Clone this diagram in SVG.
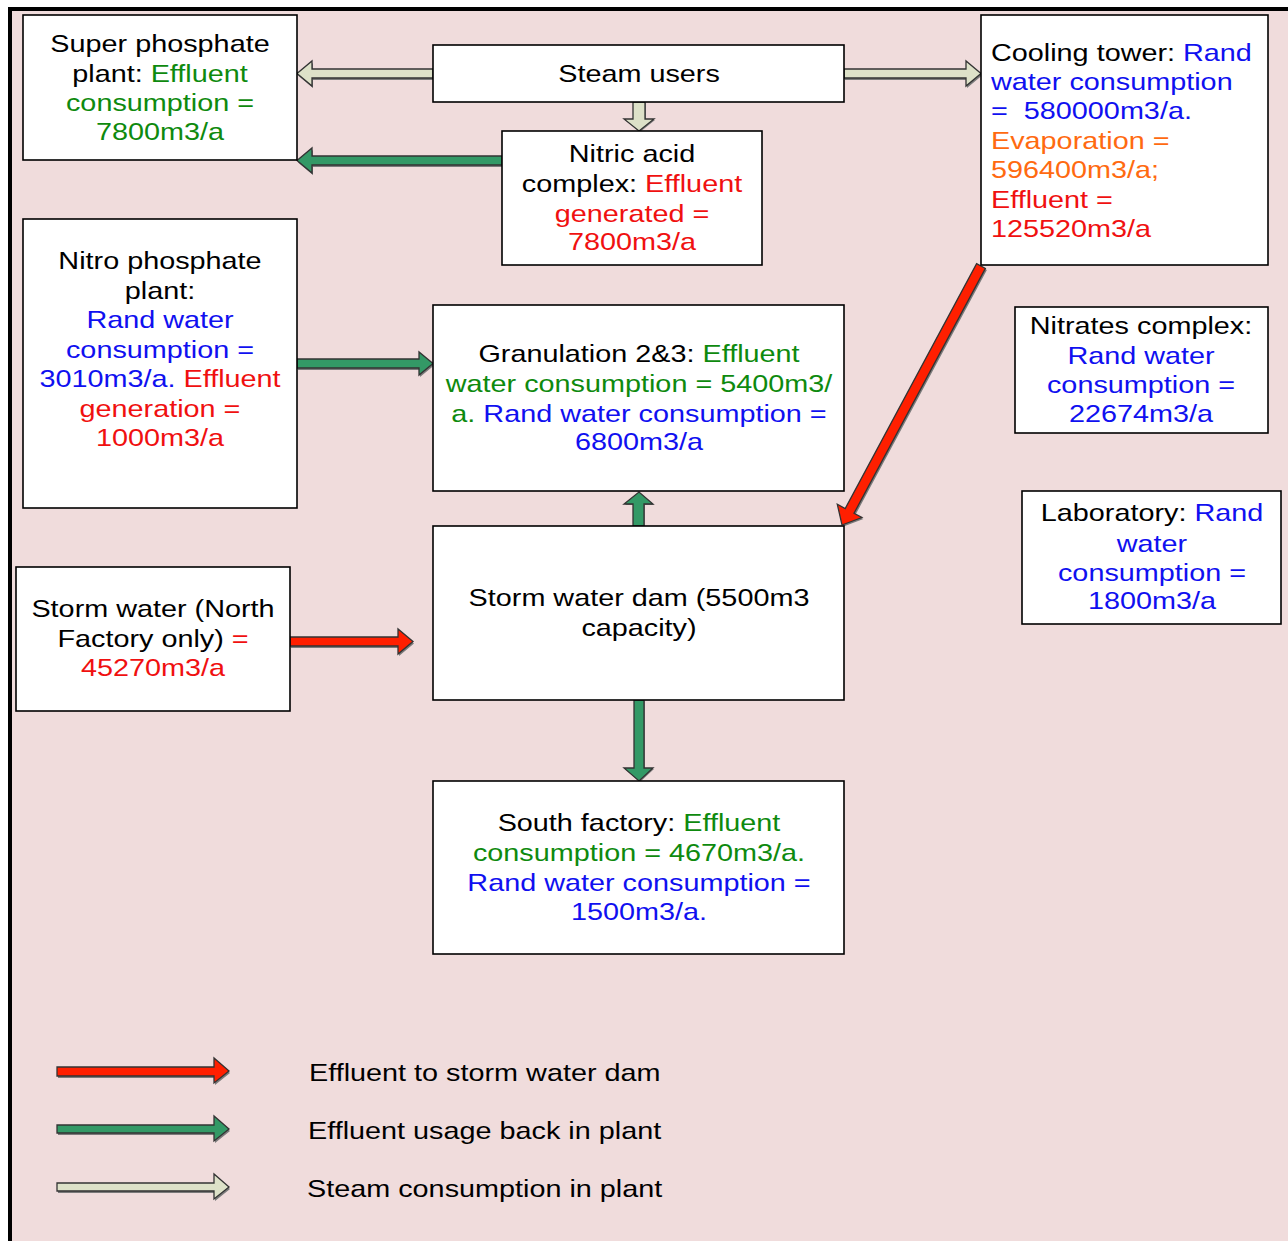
<svg xmlns="http://www.w3.org/2000/svg" width="1288" height="1241" viewBox="0 0 1288 1241">
<style>
text{font-family:"Liberation Sans",Arial,sans-serif;font-size:24px;fill:#000}
.c{text-anchor:middle}
.g{fill:#0e8a0e}
.b{fill:#1010f0}
.r{fill:#f01010}
.o{fill:#ff6a10}
.box{fill:#fff;stroke:#000;stroke-width:1.6}
.sh{fill:#7a7a7a}
.ar{stroke:#333;stroke-width:1.3;stroke-linejoin:miter}
.red{fill:#ff1f00}
.grn{fill:#339966}
.stm{fill:#dde1c8}
</style>
<rect x="0" y="0" width="1288" height="1241" fill="#fff"/>
<rect x="10" y="9" width="1278" height="1232" fill="#f0dcdc"/>
<path d="M10 1241 V9 H1288" fill="none" stroke="#000" stroke-width="4"/>

<g id="connectors">
  <polygon class="sh" transform="translate(1,2)" points="433,69 312,69 312,61 297,73.5 312,86 312,78 433,78"/>
  <polygon class="ar stm" points="433,69 312,69 312,61 297,73.5 312,86 312,78 433,78"/>
  <polygon class="sh" transform="translate(1,2)" points="844,69 966,69 966,61 981,73.5 966,86 966,78 844,78"/>
  <polygon class="ar stm" points="844,69 966,69 966,61 981,73.5 966,86 966,78 844,78"/>
  <polygon class="sh" transform="translate(1,1)" points="633,102 645,102 645,119 654,119 639,131 624,119 633,119"/>
  <polygon class="ar stm" points="633,102 645,102 645,119 654,119 639,131 624,119 633,119"/>
  <polygon class="sh" transform="translate(1,2)" points="502,156 312,156 312,148 297,160.5 312,173 312,165 502,165"/>
  <polygon class="ar grn" points="502,156 312,156 312,148 297,160.5 312,173 312,165 502,165"/>
  <polygon class="sh" transform="translate(1,2)" points="297,359 419,359 419,352 433,363.5 419,375 419,368 297,368"/>
  <polygon class="ar grn" points="297,359 419,359 419,352 433,363.5 419,375 419,368 297,368"/>
  <polygon class="sh" transform="translate(1,1)" points="633,526 633,504 624,504 639,492 653,504 644,504 644,526"/>
  <polygon class="ar grn" points="633,526 633,504 624,504 639,492 653,504 644,504 644,526"/>
  <polygon class="sh" transform="translate(1.5,1.5)" points="985.4,268.4 854,513.3 861.9,517.5 842,525 837.3,504.3 845.2,508.5 976.6,263.6"/>
  <polygon class="ar red" points="985.4,268.4 854,513.3 861.9,517.5 842,525 837.3,504.3 845.2,508.5 976.6,263.6"/>
  <polygon class="sh" transform="translate(1,2)" points="290,637 398,637 398,629 413,641.5 398,654 398,646 290,646"/>
  <polygon class="ar red" points="290,637 398,637 398,629 413,641.5 398,654 398,646 290,646"/>
  <polygon class="sh" transform="translate(1,1)" points="634,700 644,700 644,768 653,768 639,781 624,768 634,768"/>
  <polygon class="ar grn" points="634,700 644,700 644,768 653,768 639,781 624,768 634,768"/>
</g>

<g id="super-phosphate">
  <rect class="box" x="23" y="15" width="274" height="145"/>
  <text class="c" transform="translate(160,0) scale(1.2,1)" y="52">Super phosphate</text>
  <text class="c" transform="translate(160,0) scale(1.2,1)" y="82">plant: <tspan class="g">Effluent</tspan></text>
  <text class="c g" transform="translate(160,0) scale(1.2,1)" y="111">consumption =</text>
  <text class="c g" transform="translate(160,0) scale(1.2,1)" y="140">7800m3/a</text>
</g>

<g id="steam-users">
  <rect class="box" x="433" y="45" width="411" height="57"/>
  <text class="c" transform="translate(639,0) scale(1.2,1)" y="82">Steam users</text>
</g>

<g id="nitric-acid">
  <rect class="box" x="502" y="131" width="260" height="134"/>
  <text class="c" transform="translate(632,0) scale(1.2,1)" y="162">Nitric acid</text>
  <text class="c" transform="translate(632,0) scale(1.2,1)" y="192">complex: <tspan class="r">Effluent</tspan></text>
  <text class="c r" transform="translate(632,0) scale(1.2,1)" y="222">generated =</text>
  <text class="c r" transform="translate(632,0) scale(1.2,1)" y="250">7800m3/a</text>
</g>

<g id="cooling-tower">
  <rect class="box" x="981" y="15" width="287" height="250"/>
  <text transform="translate(991,0) scale(1.2,1)" y="61">Cooling tower: <tspan class="b">Rand</tspan></text>
  <text class="b" transform="translate(991,0) scale(1.2,1)" y="90">water consumption</text>
  <text class="b" transform="translate(991,0) scale(1.2,1)" y="119" xml:space="preserve">=  580000m3/a.</text>
  <text class="o" transform="translate(991,0) scale(1.2,1)" y="149">Evaporation =</text>
  <text class="o" transform="translate(991,0) scale(1.2,1)" y="178">596400m3/a;</text>
  <text class="r" transform="translate(991,0) scale(1.2,1)" y="208">Effluent =</text>
  <text class="r" transform="translate(991,0) scale(1.2,1)" y="237">125520m3/a</text>
</g>

<g id="nitro-phosphate">
  <rect class="box" x="23" y="219" width="274" height="289"/>
  <text class="c" transform="translate(160,0) scale(1.2,1)" y="269">Nitro phosphate</text>
  <text class="c" transform="translate(160,0) scale(1.2,1)" y="299">plant:</text>
  <text class="c b" transform="translate(160,0) scale(1.2,1)" y="328">Rand water</text>
  <text class="c b" transform="translate(160,0) scale(1.2,1)" y="358">consumption =</text>
  <text class="c b" transform="translate(160,0) scale(1.2,1)" y="387">3010m3/a. <tspan class="r">Effluent</tspan></text>
  <text class="c r" transform="translate(160,0) scale(1.2,1)" y="417">generation =</text>
  <text class="c r" transform="translate(160,0) scale(1.2,1)" y="446">1000m3/a</text>
</g>

<g id="granulation">
  <rect class="box" x="433" y="305" width="411" height="186"/>
  <text class="c" transform="translate(639,0) scale(1.2,1)" y="362">Granulation 2&amp;3: <tspan class="g">Effluent</tspan></text>
  <text class="c g" transform="translate(639,0) scale(1.2,1)" y="392">water consumption = 5400m3/</text>
  <text class="c g" transform="translate(639,0) scale(1.2,1)" y="422">a. <tspan class="b">Rand water consumption =</tspan></text>
  <text class="c b" transform="translate(639,0) scale(1.2,1)" y="450">6800m3/a</text>
</g>

<g id="nitrates-complex">
  <rect class="box" x="1015" y="307" width="253" height="126"/>
  <text class="c" transform="translate(1141,0) scale(1.2,1)" y="334">Nitrates complex:</text>
  <text class="c b" transform="translate(1141,0) scale(1.2,1)" y="364">Rand water</text>
  <text class="c b" transform="translate(1141,0) scale(1.2,1)" y="393">consumption =</text>
  <text class="c b" transform="translate(1141,0) scale(1.2,1)" y="422">22674m3/a</text>
</g>

<g id="laboratory">
  <rect class="box" x="1022" y="491" width="259" height="133"/>
  <text class="c" transform="translate(1152,0) scale(1.2,1)" y="521">Laboratory: <tspan class="b">Rand</tspan></text>
  <text class="c b" transform="translate(1152,0) scale(1.2,1)" y="552">water</text>
  <text class="c b" transform="translate(1152,0) scale(1.2,1)" y="581">consumption =</text>
  <text class="c b" transform="translate(1152,0) scale(1.2,1)" y="609">1800m3/a</text>
</g>

<g id="storm-water-north">
  <rect class="box" x="16" y="567" width="274" height="144"/>
  <text class="c" transform="translate(153,0) scale(1.2,1)" y="617">Storm water (North</text>
  <text class="c" transform="translate(153,0) scale(1.2,1)" y="647">Factory only) <tspan class="r">=</tspan></text>
  <text class="c r" transform="translate(153,0) scale(1.2,1)" y="676">45270m3/a</text>
</g>

<g id="storm-water-dam">
  <rect class="box" x="433" y="526" width="411" height="174"/>
  <text class="c" transform="translate(639,0) scale(1.2,1)" y="606">Storm water dam (5500m3</text>
  <text class="c" transform="translate(639,0) scale(1.2,1)" y="636">capacity)</text>
</g>

<g id="south-factory">
  <rect class="box" x="433" y="781" width="411" height="173"/>
  <text class="c" transform="translate(639,0) scale(1.2,1)" y="831">South factory: <tspan class="g">Effluent</tspan></text>
  <text class="c g" transform="translate(639,0) scale(1.2,1)" y="861">consumption = 4670m3/a.</text>
  <text class="c b" transform="translate(639,0) scale(1.2,1)" y="891">Rand water consumption =</text>
  <text class="c b" transform="translate(639,0) scale(1.2,1)" y="920">1500m3/a.</text>
</g>

<g id="legend">
  <polygon class="sh" transform="translate(1,2)" points="57,1067 214,1067 214,1058 229,1071 214,1083 214,1076 57,1076"/>
  <polygon class="ar red" points="57,1067 214,1067 214,1058 229,1071 214,1083 214,1076 57,1076"/>
  <polygon class="sh" transform="translate(1,2)" points="57,1125 214,1125 214,1116 229,1129 214,1141 214,1133 57,1133"/>
  <polygon class="ar grn" points="57,1125 214,1125 214,1116 229,1129 214,1141 214,1133 57,1133"/>
  <polygon class="sh" transform="translate(1,2)" points="57,1183 214,1183 214,1174 229,1187 214,1199 214,1191 57,1191"/>
  <polygon class="ar stm" points="57,1183 214,1183 214,1174 229,1187 214,1199 214,1191 57,1191"/>
  <text transform="translate(309,0) scale(1.2,1)" y="1081">Effluent to storm water dam</text>
  <text transform="translate(308,0) scale(1.2,1)" y="1139">Effluent usage back in plant</text>
  <text transform="translate(307,0) scale(1.2,1)" y="1197">Steam consumption in plant</text>
</g>
</svg>
